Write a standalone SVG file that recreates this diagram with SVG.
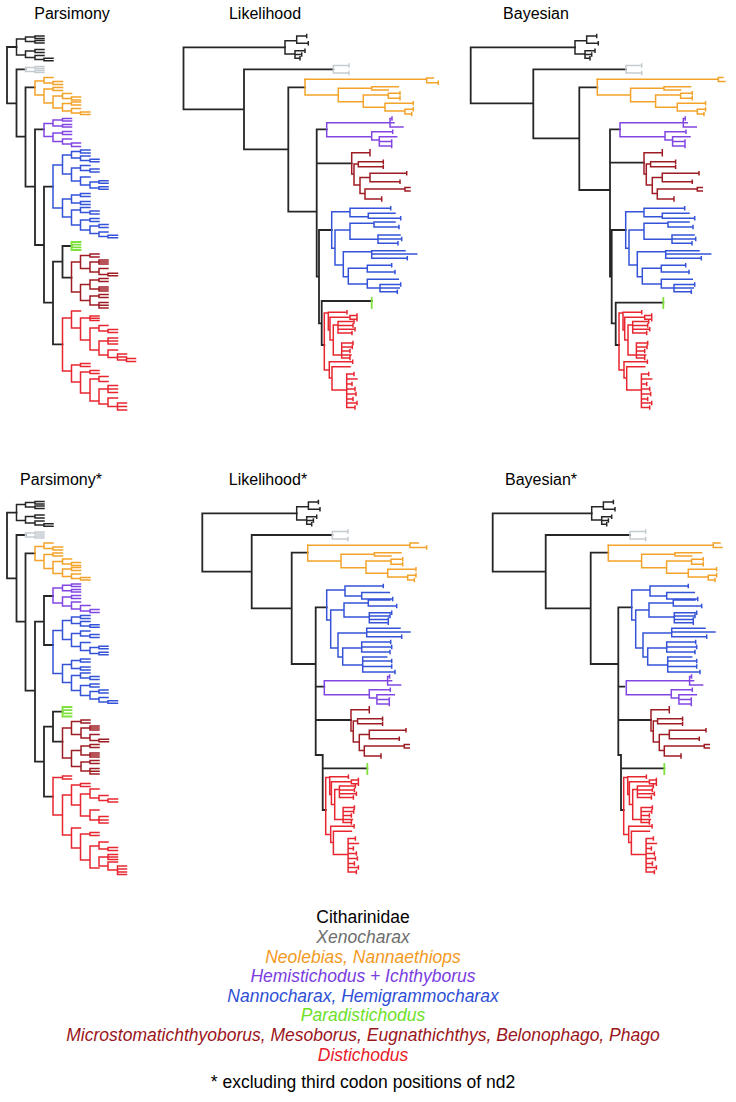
<svg xmlns="http://www.w3.org/2000/svg" width="736" height="1102" viewBox="0 0 736 1102">
<style>
.t{fill:none;stroke-width:1.5;stroke-linecap:square}
.bb{stroke-width:1.8}
.k{stroke:#262626}
.g{stroke:#c4ccd0}
.o{stroke:#f4a32a}
.p{stroke:#8247e2}
.b{stroke:#3553d8}
.gr{stroke:#7fe23c;stroke-width:1.8}
.dr{stroke:#9e1c24}
.r{stroke:#e82630}
text{font-family:"Liberation Sans",Arial,sans-serif}
.ttl{font-size:16px;text-anchor:middle;fill:#000}
.lg{font-size:17.5px;text-anchor:middle;font-style:italic}
</style>
<defs>
<path id="cithP" d="M16.5,39 V55 M16.5,39 H25.5 M25.5,37 V41.5 M25.5,37 H35 M35,36 V38.5 M35,36 H44 M35,38.5 H44 M25.5,41.5 H35 M35,40.5 V43 M35,40.5 H44 M35,43 H44 M16.5,55 H25.5 M25.5,51 V57.5 M25.5,51 H35 M35,49.5 V52.5 M35,49.5 H44 M35,52.5 H44 M25.5,57.5 H35 M35,55.5 V59.5 M35,55.5 H44 M35,59.5 H44 M44,58.3 V60.8 M44,58.3 H53 M44,60.8 H53"/>
<path id="grayP" d="M25.5,67.5 V71.5 M25.5,67.5 H35 M35,66.5 V68.5 M35,66.5 H44 M35,68.5 H44 M25.5,71.5 H35 M35,70.5 V72.5 M35,70.5 H44 M35,72.5 H44"/>
<path id="oraP" d="M35,81 V95 M35,81 H44 M44,77.5 V83 M44,77.5 H53 M44,83 H53 M53,81.5 V84.5 M53,81.5 H62.5 M53,84.5 H62.5 M35,95 H44 M44,89 V103 M44,89 H53 M53,87.5 V90.5 M53,87.5 H62.5 M53,90.5 H62.5 M44,103 H53 M53,96 V108 M53,96 H62.5 M62.5,93.5 V98.5 M62.5,93.5 H71.5 M62.5,98.5 H71.5 M71.5,97 V100 M71.5,97 H80.5 M71.5,100 H80.5 M53,108 H62.5 M62.5,103.5 V111 M62.5,103.5 H71.5 M71.5,102 V105 M71.5,102 H80.5 M71.5,105 H80.5 M62.5,111 H71.5 M71.5,108.5 V113 M71.5,108.5 H80.5 M71.5,113 H80.5 M80.5,112 V114.5 M80.5,112 H90 M80.5,114.5 H90"/>
<path id="purP" d="M44,123.5 V136.5 M44,123.5 H53 M53,120 V126 M53,120 H62.5 M62.5,118.5 V121 M62.5,118.5 H71.5 M62.5,121 H71.5 M53,126 H62.5 M62.5,124.5 V127 M62.5,124.5 H71.5 M62.5,127 H71.5 M44,136.5 H53 M53,133 V141.5 M53,133 H62.5 M62.5,131.5 V134.5 M62.5,131.5 H71.5 M62.5,134.5 H71.5 M53,141.5 H62.5 M62.5,139 V144 M62.5,139 H71.5 M62.5,144 H71.5 M71.5,143 V146.5 M71.5,143 H80.5 M71.5,146.5 H80.5"/>
<path id="bluP" d="M53,165 V208 M53,165 H62.5 M62.5,155 V174 M62.5,155 H71.5 M71.5,151.5 V158 M71.5,151.5 H80.5 M80.5,150 V153 M80.5,150 H90 M80.5,153 H90 M71.5,158 H80.5 M80.5,156 V160.5 M80.5,156 H90 M80.5,160.5 H90 M90,159.3 V161.8 M90,159.3 H99 M90,161.8 H99 M62.5,174 H71.5 M71.5,168 V181 M71.5,168 H80.5 M80.5,165.5 V170.5 M80.5,165.5 H90 M80.5,170.5 H90 M90,169 V172 M90,169 H99 M90,172 H99 M71.5,181 H80.5 M80.5,177 V185 M80.5,177 H90 M80.5,185 H90 M90,182 V188 M90,182 H99 M90,188 H99 M99,180.8 V183.3 M99,180.8 H108 M99,183.3 H108 M99,186.7 V189.3 M99,186.7 H108 M99,189.3 H108 M53,208 H62.5 M62.5,199 V217 M62.5,199 H71.5 M71.5,195 V203 M71.5,195 H80.5 M80.5,193.5 V196.5 M80.5,193.5 H90 M80.5,196.5 H90 M71.5,203 H80.5 M80.5,201.5 V204.5 M80.5,201.5 H90 M80.5,204.5 H90 M62.5,217 H71.5 M71.5,210 V225 M71.5,210 H80.5 M80.5,207.5 V212.5 M80.5,207.5 H90 M80.5,212.5 H90 M90,211 V214 M90,211 H99 M90,214 H99 M71.5,225 H80.5 M80.5,220 V230 M80.5,220 H90 M90,218.5 V221.5 M90,218.5 H99 M90,221.5 H99 M80.5,230 H90 M90,226 V233.5 M90,226 H99 M99,224.5 V227.5 M99,224.5 H108 M99,227.5 H108 M90,233.5 H99 M99,232 V236.5 M99,232 H108 M99,236.5 H108 M108,235.3 V237.8 M108,235.3 H117.5 M108,237.8 H117.5"/>
<path id="dredP" d="M71.5,262 V292 M71.5,262 H80.5 M80.5,255.5 V268.5 M80.5,255.5 H90 M90,254 V257 M90,254 H99 M90,257 H99 M80.5,268.5 H90 M90,262 V272 M90,262 H99 M99,260 V264 M99,260 H108 M99,262 H108 M99,264 H108 M90,272 H99 M99,268.5 V274.5 M99,268.5 H108 M99,274.5 H108 M108,273.3 V275.8 M108,273.3 H117.5 M108,275.8 H117.5 M71.5,292 H80.5 M80.5,284.5 V300.5 M80.5,284.5 H90 M90,280 V289 M90,280 H99 M99,278.5 V281.5 M99,278.5 H108 M99,281.5 H108 M90,289 H99 M99,287 V291 M99,287 H108 M99,289 H108 M99,291 H108 M80.5,300.5 H90 M90,296 V305 M90,296 H99 M99,294.5 V297.5 M99,294.5 H108 M99,297.5 H108 M90,305 H99 M99,302.5 V308 M99,302.5 H108 M99,305.2 H108 M99,308 H108"/>
<path id="cithL" d="M285,40.7 V54 M285,40.7 H296.7 M296.7,36 V43.3 M296.7,36 H306.7 m0,-1.5 v3 M296.7,43.3 H308.3 m0,-1.5 v3 M285,54 H295 M295,50.7 V58.3 M295,50.7 H305 m0,-1.5 v3 M295,54.5 H301.7 m0,-1.5 v3 M295,58.3 H300 m0,-1.5 v3"/>
<path id="grayL" d="M333.3,65.5 V73 M333.3,65.5 H349 m0,-1.5 v3 M333.3,73 H349 m0,-1.5 v3"/>
<path id="oraL" d="M305,79.3 V95 M305,95 H338.3 M338.3,88.3 V101.7 M338.3,88.3 H371.7 M371.7,86.7 V90 M371.7,86.7 H398.3 M371.7,90 H388.3 M338.3,101.7 H363.3 M363.3,95 V107.3 M363.3,95 H388.3 M388.3,93.3 V98.3 M388.3,93.3 H400 m0,-1.5 v3 M388.3,98.3 H400 m0,-1.5 v3 M363.3,107.3 H385 M385,103.3 V111 M385,103.3 H413.3 m0,-1.5 v3 M385,111 H405 M405,109.3 V114 M405,109.3 H413.3 m0,-1.5 v3 M405,114 H411.7 m0,-1.5 v3"/>
<path id="purL" d="M326.7,122.7 V136.7 M326.7,122.7 H390 M390,118.5 V127 M390,118.5 H392 m0,-1.5 v3 M390,122.7 H394 M390,127 H403 M326.7,136.7 H371.7 M371.7,131.7 V140 M371.7,131.7 H392.7 m0,-1.5 v3 M371.7,140 H379.3 M379.3,136.7 V146 M379.3,136.7 H396.7 M379.3,141.5 H391.7 m0,-1.5 v3 M379.3,146 H391.7 m0,-1.5 v3"/>
<path id="dredL" d="M351.7,152.7 V174 M351.7,152.7 H370 m0,-3 v6 M351.7,174 H354 M354,164 V185 M354,164 H358.3 M358.3,161.7 V166.7 M358.3,161.7 H383.3 m0,-1.5 v3 M358.3,166.7 H383.3 m0,-1.5 v3 M354,185 H360 M360,177.5 V193.5 M360,177.5 H370 M370,173.3 V181.7 M370,173.3 H406.7 m0,-1.5 v3 M370,181.7 H400 m0,-1.5 v3 M360,193.5 H365 M365,189 V199 M365,189 H405 M405,187.5 V191 M405,187.5 H410 M405,191 H410 M365,199 H381.7 m0,-2 v4"/>
<path id="bluL" d="M331.7,211.7 V248.3 M331.7,211.7 H350 M350,208.3 V216.7 M350,208.3 H390.7 m0,-1.5 v3 M350,216.7 H368.3 M368.3,213.3 V218.3 M368.3,213.3 H395 M368.3,218.3 H400.7 m0,-1.5 v3 M331.7,248.3 H335 M335,230 V265 M335,230 H350 M350,223.3 V239.3 M350,223.3 H374 M374,222 V227 M374,222 H395 M374,227 H399 m0,-1.5 v3 M350,239.3 H378 M378,235 V243.3 M378,235 H400 M378,239 H401.7 m0,-1.5 v3 M378,243.3 H398 m0,-1.5 v3 M335,265 H343.3 M343.3,251.7 V276.7 M343.3,251.7 H371.7 M371.7,250.7 V258.3 M371.7,250.7 H405 M371.7,254 H416.7 M371.7,258.3 H407.3 m0,-1.5 v3 M343.3,276.7 H348.3 M348.3,268.3 V284 M348.3,268.3 H367.3 M367.3,265.3 V272 M367.3,265.3 H391.7 m0,-1.5 v3 M367.3,272 H395 m0,-1.5 v3 M348.3,284 H367.3 M367.3,279.3 V288 M367.3,279.3 H398.3 M367.3,288 H380 M380,284.5 V291.7 M380,284.5 H400.7 m0,-1.5 v3 M380,288 H399.3 M380,291.7 H397.3 m0,-1.5 v3"/>
<path id="redL" d="M324.3,313 V370 M324.3,313 H328.3 M328.3,312.3 V330 M328.3,312.3 H347 m0,-1.5 v3 M328.3,330 H330 M330,317.3 V340 M330,317.3 H350 M350,315.5 V319.3 M350,315.5 H357 m0,-1.5 v3 M350,319.3 H357 m0,-1.5 v3 M330,340 H333.3 M333.3,325 V355 M333.3,325 H338 M338,321.5 V333 M338,321.5 H354 m0,-1.5 v3 M338,325.5 H353 m0,-1.5 v3 M338,329.3 H355 m0,-1.5 v3 M338,333 H352 m0,-1.5 v3 M333.3,355 H341.7 M341.7,343 V358 M341.7,343 H353 m0,-1.5 v3 M341.7,347 H352.3 m0,-1.5 v3 M341.7,351 H350 m0,-1.5 v3 M341.7,355 H351 M341.7,358 H350 m0,-1.5 v3 M324.3,370 H329.3 M329.3,361.7 V378 M329.3,361.7 H352.7 m0,-1.5 v3 M329.3,378 H332 M332,366.7 V390 M332,366.7 H350 M332,390 H346.7 M346.7,374 V407.5 M346.7,374 H354 m0,-1.5 v3 M346.7,379 H357 M346.7,384 H352 m0,-1.5 v3 M346.7,389 H355 m0,-1.5 v3 M346.7,394 H356 m0,-1.5 v3 M346.7,399 H353 m0,-1.5 v3 M346.7,403 H357 m0,-1.5 v3 M346.7,407.5 H355 m0,-1.5 v3"/>
<path id="bluL2" d="M326.7,590 V620 M326.7,590 H345 M345,586 V596 M345,586 H383.3 m0,-1.5 v3 M345,596 H361.7 M361.7,592.5 V599 M361.7,592.5 H389.3 M361.7,599 H392.7 m0,-1.5 v3 M326.7,620 H330.7 M330.7,610 V648 M330.7,610 H344 M344,603 V617 M344,603 H368.3 M368.3,600 V606 M368.3,600 H390 M368.3,606 H396.7 m0,-1.5 v3 M344,617 H369.3 M369.3,612.7 V622.7 M369.3,612.7 H391.7 m0,-1.5 v3 M369.3,616 H390 m0,-1.5 v3 M369.3,619.5 H388.3 m0,-1.5 v3 M369.3,622.7 H388.3 m0,-1.5 v3 M330.7,648 H338 M338,633 V657 M338,633 H366.7 M366.7,628.3 V636.7 M366.7,628.3 H400 M366.7,632 H410 M366.7,636.7 H401.7 m0,-1.5 v3 M338,657 H342.7 M342.7,648 V665 M342.7,648 H361.7 M361.7,642 V652 M361.7,642 H390.7 m0,-1.5 v3 M361.7,647 H391.7 m0,-1.5 v3 M361.7,652 H390 m0,-1.5 v3 M342.7,665 H362.7 M362.7,657 V672 M362.7,657 H386.7 M362.7,661 H391.7 m0,-1.5 v3 M362.7,666.5 H391.7 m0,-1.5 v3 M362.7,672 H395 m0,-1.5 v3"/>
</defs>

<g id="parsimony">
<text class="ttl" x="72" y="19">Parsimony</text>
<g id="parsimony-connectors"><path class="t k bb" d="M7,47 V103.3 M7,47 H16.5 M7,103.3 H16.5 M16.5,69.3 V136.7 M16.5,69.3 H25.5 M16.5,136.7 H25.5 M25.5,87.3 V186.7 M25.5,87.3 H35 M25.5,186.7 H35 M35,129.3 V245 M35,129.3 H44 M35,245 H44 M44,186.7 V302.7 M44,186.7 H53 M44,302.7 H53 M53,261.7 V344.3 M53,261.7 H62.5 M53,344.3 H62.5 M62.5,246 V277.7 M62.5,246 H71.5 M62.5,277.7 H71.5"/></g>
<g id="p-citharinidae"><use href="#cithP" class="t k"/></g>
<g id="p-xenocharax"><use href="#grayP" class="t g"/></g>
<g id="p-neolebias"><use href="#oraP" class="t o"/></g>
<g id="p-hemistichodus"><use href="#purP" class="t p"/></g>
<g id="p-nannocharax"><use href="#bluP" class="t b"/></g>
<g id="p-paradistichodus"><path class="t gr" d="M71.5,242 V250 M71.5,242 H80.5 M71.5,244.7 H80.5 M71.5,247.3 H80.5 M71.5,250 H80.5"/></g>
<g id="p-microstomatichthyoborus"><use href="#dredP" class="t dr"/></g>
<g id="p-distichodus"><path class="t r" d="M62.5,318 V371 M62.5,318 H71.5 M71.5,311 V328 M71.5,311 H80.5 M71.5,328 H80.5 M80.5,318 V340 M80.5,318 H90 M90,316 V320.5 M90,316 H99 M90,318.3 H99 M90,320.5 H99 M80.5,340 H90 M90,328 V350 M90,328 H99 M99,325.5 V331 M99,325.5 H108 M99,331 H108 M108,329.5 V332.5 M108,329.5 H117.5 M108,332.5 H117.5 M90,350 H99 M99,341 V355 M99,341 H108 M108,338 V344 M108,338 H117.5 M108,341 H117.5 M108,344 H117.5 M99,355 H108 M108,350 V357.5 M108,350 H117.5 M108,357.5 H117.5 M117.5,354 V360 M117.5,354 H126.5 M117.5,357 H126.5 M117.5,360 H126.5 M126.5,358.5 V361.5 M126.5,358.5 H135.5 M126.5,361.5 H135.5 M62.5,371 H71.5 M71.5,365 V382 M71.5,365 H80.5 M80.5,363.5 V366.5 M80.5,363.5 H90 M80.5,366.5 H90 M71.5,382 H80.5 M80.5,372 V393 M80.5,372 H90 M90,370.5 V373.5 M90,370.5 H99 M90,373.5 H99 M80.5,393 H90 M90,379 V401 M90,379 H99 M99,376.5 V381.5 M99,376.5 H108 M99,381.5 H108 M90,401 H99 M99,389 V404 M99,389 H108 M108,385.5 V392.5 M108,385.5 H117.5 M108,389 H117.5 M108,392.5 H117.5 M99,404 H108 M108,398 V406.5 M108,398 H117.5 M108,406.5 H117.5 M117.5,403 V410 M117.5,403 H126.5 M117.5,406.5 H126.5 M117.5,410 H126.5"/></g>
</g>

<g id="likelihood">
<text class="ttl" x="265" y="19">Likelihood</text>
<g id="likelihood-connectors"><path class="t k bb" d="M183.5,47.3 V109.3 M183.5,47.3 H285 M183.5,109.3 H244 M244,69.3 V149.3 M244,69.3 H333.3 M244,149.3 H288.3 M288.3,87.3 V211.7 M288.3,87.3 H305 M288.3,211.7 H316.7 M316.7,129.3 V276.7 M316.7,129.3 H326.7 M316.7,163.3 H351.7 M316.7,276.7 H319 M319,230 V323.3 M319,230 H331.7 M319,323.3 H321.7 M321.7,301 V345 M321.7,301 H371.7 M321.7,345 H324.3"/></g>
<g id="l-citharinidae"><use href="#cithL" class="t k"/></g>
<g id="l-xenocharax"><use href="#grayL" class="t g"/></g>
<g id="l-neolebias"><use href="#oraL" class="t o"/><path class="t o" d="M305,79.3 H426.7 M426.7,78 V82.7 M426.7,78 H433.3 M426.7,82.7 H438.3 m0,-1.5 v3"/></g>
<g id="l-hemistichodus"><use href="#purL" class="t p"/></g>
<g id="l-microstomatichthyoborus"><use href="#dredL" class="t dr"/></g>
<g id="l-nannocharax"><use href="#bluL" class="t b"/></g>
<g id="l-paradistichodus"><path class="t gr" d="M371.7,298 V308"/></g>
<g id="l-distichodus"><use href="#redL" class="t r"/></g>
</g>

<g id="bayesian">
<text class="ttl" x="536" y="19">Bayesian</text>
<g id="bayesian-connectors"><path class="t k bb" d="M470.7,47.3 V103.3 M470.7,47.3 H575 M470.7,103.3 H533.3 M533.3,69.3 V138.3 M533.3,69.3 H626 M533.3,138.3 H579.3 M579.3,87.3 V190 M579.3,87.3 H597.3 M579.3,190 H610 M610,129.3 V276.7 M610,129.3 H620 M610,162.7 H644 M610,276.7 H611.7 M611.7,230 V323.3 M611.7,230 H625.7 M611.7,323.3 H615.7 M615.7,302.7 V345 M615.7,302.7 H663.3 M615.7,345 H619"/></g>
<g id="b-citharinidae"><use href="#cithL" class="t k" transform="translate(290,0)"/></g>
<g id="b-xenocharax"><use href="#grayL" class="t g" transform="translate(292.7,0)"/></g>
<g id="b-neolebias"><use href="#oraL" class="t o" transform="translate(292.3,0)"/><path class="t o" d="M597.3,79.3 H718.3 M718.3,77.5 V81.5 M718.3,77.5 H723 M718.3,81.5 H725"/></g>
<g id="b-hemistichodus"><use href="#purL" class="t p" transform="translate(293.3,0)"/></g>
<g id="b-microstomatichthyoborus"><use href="#dredL" class="t dr" transform="translate(292.3,0)"/></g>
<g id="b-nannocharax"><use href="#bluL" class="t b" transform="translate(294,0)"/></g>
<g id="b-paradistichodus"><path class="t gr" d="M663.3,298 V308"/></g>
<g id="b-distichodus"><use href="#redL" class="t r" transform="translate(294.7,0)"/></g>
</g>

<g id="parsimony-star">
<text class="ttl" x="61" y="485">Parsimony*</text>
<g id="parsimony-star-connectors"><path class="t k bb" d="M7,512.7 V578.3 M7,512.7 H16.5 M7,578.3 H16.5 M16.5,535 V621.7 M16.5,535 H25.5 M16.5,621.7 H25.5 M25.5,553.3 V690.7 M25.5,553.3 H35 M25.5,690.7 H35 M35,621.7 V761.7 M35,621.7 H44 M35,761.7 H44 M44,596 V645 M44,596 H53 M44,645 H53 M44,726.7 V796.7 M44,726.7 H53 M44,796.7 H53 M53,711.7 V741.7 M53,711.7 H62.5 M53,741.7 H62.5"/></g>
<g id="ps-citharinidae"><use href="#cithP" class="t k" transform="translate(0,465.5)"/></g>
<g id="ps-xenocharax"><use href="#grayP" class="t g" transform="translate(0,465.5)"/></g>
<g id="ps-neolebias"><use href="#oraP" class="t o" transform="translate(0,465.5)"/></g>
<g id="ps-hemistichodus"><path class="t p" d="M53,588 V603 M53,588 H62.5 M62.5,585.2 V590.8 M62.5,585.2 H71.5 M71.5,584 V586.5 M71.5,584 H80.5 M71.5,586.5 H80.5 M62.5,590.8 H71.5 M71.5,589.5 V592 M71.5,589.5 H80.5 M71.5,592 H80.5 M53,603 H62.5 M62.5,597 V606 M62.5,597 H71.5 M71.5,595.5 V598.5 M71.5,595.5 H80.5 M71.5,598.5 H80.5 M62.5,606 H71.5 M71.5,602 V609 M71.5,602 H80.5 M71.5,609 H80.5 M80.5,605.5 V611 M80.5,605.5 H90 M80.5,611 H90 M90,609.5 V612.5 M90,609.5 H99 M90,612.5 H99"/></g>
<g id="ps-nannocharax"><use href="#bluP" class="t b" transform="translate(0,465.5)"/></g>
<g id="ps-paradistichodus"><path class="t gr" d="M62.5,707 V716.5 M62.5,707 H71.5 M62.5,710.2 H71.5 M62.5,713.3 H71.5 M62.5,716.5 H71.5"/></g>
<g id="ps-microstomatichthyoborus"><use href="#dredP" class="t dr" transform="translate(-9,466)"/></g>
<g id="ps-distichodus"><path class="t r" d="M53,777.5 V815 M53,777.5 H62.5 M62.5,776 V779 M62.5,776 H71.5 M62.5,779 H71.5 M53,815 H62.5 M62.5,795 V835 M62.5,795 H71.5 M71.5,785 V805 M71.5,785 H80.5 M80.5,783.5 V786.5 M80.5,783.5 H90 M80.5,786.5 H90 M71.5,805 H80.5 M80.5,794 V816 M80.5,794 H90 M90,789 V798 M90,789 H99 M90,798 H99 M99,795.5 V800.5 M99,795.5 H108 M99,800.5 H108 M108,799 V802 M108,799 H117.5 M108,802 H117.5 M80.5,816 H90 M90,810 V820 M90,810 H99 M90,820 H99 M99,816.5 V823 M99,816.5 H108 M99,820 H108 M99,823 H108 M62.5,835 H71.5 M71.5,828 V848 M71.5,828 H80.5 M71.5,848 H80.5 M80.5,834 V860 M80.5,834 H90 M90,832.5 V835.5 M90,832.5 H99 M90,835.5 H99 M80.5,860 H90 M90,846 V868 M90,846 H99 M99,842 V849 M99,842 H108 M99,849 H108 M108,847.5 V850.5 M108,847.5 H117.5 M108,850.5 H117.5 M90,868 H99 M99,857 V866 M99,857 H108 M108,854.5 V859.5 M108,854.5 H117.5 M108,857 H117.5 M108,859.5 H117.5 M99,866 H108 M108,862 V870 M108,862 H117.5 M108,870 H117.5 M117.5,866 V874.5 M117.5,866 H126.5 M117.5,869 H126.5 M117.5,872 H126.5 M117.5,874.5 H126.5"/></g>
</g>

<g id="likelihood-star">
<text class="ttl" x="268" y="485">Likelihood*</text>
<g id="likelihood-star-connectors"><path class="t k bb" d="M202.3,513.3 V571.7 M202.3,513.3 H296.7 M202.3,571.7 H251.7 M251.7,535 V608.3 M251.7,535 H332.3 M251.7,608.3 H291.7 M291.7,552.7 V664 M291.7,552.7 H307.7 M291.7,664 H315.7 M315.7,607.3 V755 M315.7,607.3 H326.7 M315.7,686.7 H324.3 M315.7,720 H351 M315.7,755 H322.7 M322.7,755 V810 M322.7,768.3 H367.3 M322.7,810 H325.7"/></g>
<g id="ls-citharinidae"><use href="#cithL" class="t k" transform="translate(11.7,466)"/></g>
<g id="ls-xenocharax"><use href="#grayL" class="t g" transform="translate(-1,466)"/></g>
<g id="ls-neolebias"><use href="#oraL" class="t o" transform="translate(2.7,466)"/><path class="t o" d="M307.7,545.3 H410 M410,543 V547.5 M410,543 H418.3 M410,547.5 H426.7 m0,-1.5 v3"/></g>
<g id="ls-nannocharax"><use href="#bluL2" class="t b"/></g>
<g id="ls-hemistichodus"><use href="#purL" class="t p" transform="translate(-2.4,558)"/></g>
<g id="ls-microstomatichthyoborus"><use href="#dredL" class="t dr" transform="translate(-0.7,557)"/></g>
<g id="ls-paradistichodus"><path class="t gr" d="M367.3,764 V774"/></g>
<g id="ls-distichodus"><use href="#redL" class="t r" transform="translate(1.4,464.5)"/></g>
</g>

<g id="bayesian-star">
<text class="ttl" x="541" y="485">Bayesian*</text>
<g id="bayesian-star-connectors"><path class="t k bb" d="M492.7,513.3 V571.7 M492.7,513.3 H591.7 M492.7,571.7 H545.7 M545.7,535 V608.3 M545.7,535 H630 M545.7,608.3 H590.7 M590.7,552.7 V664 M590.7,552.7 H608.3 M590.7,664 H618.3 M618.3,607.3 V755 M618.3,607.3 H631.7 M618.3,686.7 H624.3 M618.3,720 H651 M618.3,755 H621 M621,755 V810 M621,768.3 H664.3 M621,810 H623.7"/></g>
<g id="bs-citharinidae"><use href="#cithL" class="t k" transform="translate(306.7,466)"/></g>
<g id="bs-xenocharax"><use href="#grayL" class="t g" transform="translate(296.7,466)"/></g>
<g id="bs-neolebias"><use href="#oraL" class="t o" transform="translate(303.3,466)"/><path class="t o" d="M608.3,545.3 H713.3 M713.3,543 V547.5 M713.3,543 H720 M713.3,547.5 H722"/></g>
<g id="bs-nannocharax"><use href="#bluL2" class="t b" transform="translate(305,0)"/></g>
<g id="bs-hemistichodus"><use href="#purL" class="t p" transform="translate(299.6,558)"/></g>
<g id="bs-microstomatichthyoborus"><use href="#dredL" class="t dr" transform="translate(299.3,557)"/></g>
<g id="bs-paradistichodus"><path class="t gr" d="M664.3,764 V774"/></g>
<g id="bs-distichodus"><use href="#redL" class="t r" transform="translate(299.4,464.5)"/></g>
</g>

<g id="legend">
<text class="lg" x="363" y="923.4" style="font-style:normal" fill="#000">Citharinidae</text>
<text class="lg" x="363" y="943" fill="#6e6e6e">Xenocharax</text>
<text class="lg" x="363" y="962.6" fill="#f39a1e">Neolebias, Nannaethiops</text>
<text class="lg" x="363" y="982.2" fill="#7a3de0">Hemistichodus + Ichthyborus</text>
<text class="lg" x="363" y="1001.8" fill="#2e4fd6">Nannocharax, Hemigrammocharax</text>
<text class="lg" x="363" y="1021.4" fill="#6ee02a">Paradistichodus</text>
<text class="lg" x="363" y="1041" fill="#9b1520">Microstomatichthyoborus, Mesoborus, Eugnathichthys, Belonophago, Phago</text>
<text class="lg" x="363" y="1060.6" fill="#e8202a">Distichodus</text>
<text class="lg" x="363" y="1088" style="font-style:normal" fill="#000">* excluding third codon positions of nd2</text>
</g>
</svg>
